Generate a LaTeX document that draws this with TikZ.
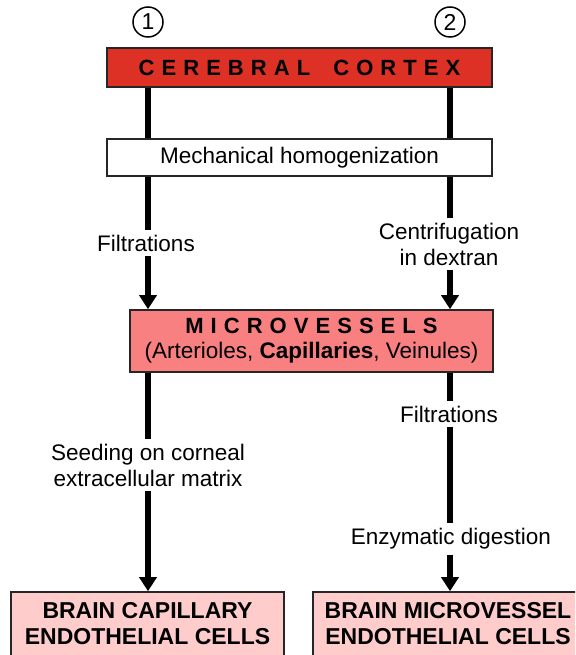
\documentclass[tikz,border=0pt]{standalone}
\usepackage{fontspec}
\setmainfont{Liberation Sans}
\newfontfamily\widefont[LetterSpace=32]{Liberation Sans}
\usetikzlibrary{arrows.meta, positioning, calc}
\definecolor{cortexred}{HTML}{DC3124}
\definecolor{microred}{HTML}{F88080}
\definecolor{cellpink}{HTML}{FFCCCC}

\begin{document}
\begin{tikzpicture}[
    x=1pt, y=-1pt,
    every node/.style={font=\fontsize{22.5}{26}\selectfont},
    procbox/.style={draw=black!85, line width=1.6pt, anchor=center, inner sep=0pt},
    cellbox/.style={procbox, fill=cellpink, minimum height=64pt, align=center, font=\fontsize{23}{26}\selectfont\bfseries},
    numcircle/.style={circle, draw, line width=1.5pt, minimum size=30pt, inner sep=0pt, font=\fontsize{23}{26}\selectfont},
    steptext/.style={align=center, inner sep=5pt},
    shaft/.style={line width=5.8pt},
    arrowline/.style={line width=5.8pt, -{Triangle[width=17pt, length=14pt]}},
    ]
    \clip (0,0) rectangle (575,655);

    % Pathway numbers
    \node[numcircle] (num1) at (148,22) {1};
    \node[numcircle] (num2) at (450,22) {2};

    % Cerebral cortex
    \node[procbox, fill=cortexred, minimum width=385pt, minimum height=39pt] (cortex) at (299.5,67.5)
        {\fontsize{22}{24}\widefont\bfseries CEREBRAL\hspace{10pt} CORTEX};

    % Homogenization
    \node[procbox, fill=white, minimum width=385pt, minimum height=37pt] (homog) at (299.5,157.5)
        {Mechanical homogenization};

    % Microvessels
    \node[procbox, fill=microred, minimum width=363pt, minimum height=62pt, align=center] (micro) at (311.5,341)
        {{\fontsize{22}{24}\widefont\bfseries MICROVESSELS}\\[-1pt](Arterioles, \textbf{Capillaries}, Veinules)};

    % Endothelial cells
    \node[cellbox, minimum width=273pt] (bcec) at (147.5,624) {BRAIN CAPILLARY\\ENDOTHELIAL CELLS};
    \node[cellbox, minimum width=270pt] (bmec) at (448,624) {BRAIN MICROVESSEL\\ENDOTHELIAL CELLS};

    % Step labels
    \node[steptext] (filtA) at (146,243) {Filtrations};
    \node[steptext] (centri) at (449,244) {Centrifugation\\in dextran};
    \node[steptext] (seed) at (148,465) {Seeding on corneal\\extracellular matrix};
    \node[steptext] (filtB) at (449,414) {Filtrations};
    \node[steptext] (enzym) at (451,539) {Enzymatic digestion};

    % Pathway 1
    \draw[shaft] (cortex.south -| num1) -- (homog.north -| num1);
    \draw[shaft] (homog.south -| num1) -- (filtA.north -| num1);
    \draw[arrowline] (filtA.south -| num1) -- (micro.north -| num1);
    \draw[shaft] (micro.south -| num1) -- (seed.north -| num1);
    \draw[arrowline] (seed.south -| num1) -- (bcec.north -| num1);

    % Pathway 2
    \draw[shaft] (cortex.south -| num2) -- (homog.north -| num2);
    \draw[shaft] (homog.south -| num2) -- (centri.north -| num2);
    \draw[arrowline] (centri.south -| num2) -- (micro.north -| num2);
    \draw[shaft] (micro.south -| num2) -- (filtB.north -| num2);
    \draw[shaft] (filtB.south -| num2) -- (enzym.north -| num2);
    \draw[arrowline] (enzym.south -| num2) -- (bmec.north -| num2);
\end{tikzpicture}
\end{document}
